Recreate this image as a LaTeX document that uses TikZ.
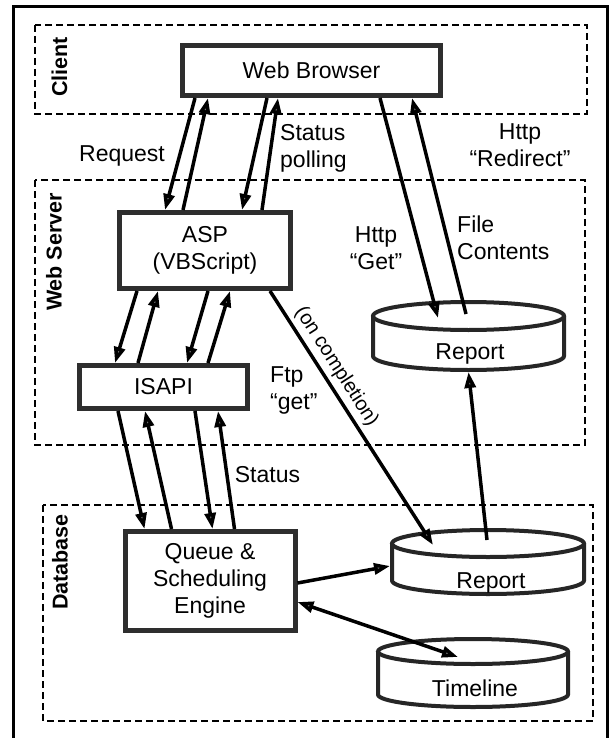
\documentclass[tikz,border=0pt]{standalone}
\usepackage{fontspec}
\setmainfont{Liberation Sans}
\usetikzlibrary{arrows.meta,calc}
\newcommand\mainfs{\fontsize{23}{27}\selectfont}
\newcommand\smallfs{\fontsize{20}{24}\selectfont}
\newcommand\zonefs{\fontsize{21.5}{25}\selectfont\bfseries}
\tikzset{
  mytip/.tip={Triangle[length=16pt,width=11pt,fill=black!55]},
  box/.style={draw=black!82, line width=5pt, fill=white, inner sep=0pt, font=\mainfs, align=center},
  zone/.style={draw=black, line width=2pt, dash pattern=on 7pt off 4pt},
  zonelabel/.style={rotate=90, font=\zonefs, inner sep=0pt},
  lbl/.style={font=\mainfs, inner sep=0pt},
  arr/.style={draw=black, line width=3.5pt, -mytip},
  darr/.style={draw=black, line width=3.5pt, mytip-mytip},
  cyl/.style={draw=black!85, line width=4pt},
}
% #1 cx, #2 cy of top ellipse, #3 rx, #4 ry, #5 cy of bottom arc
\newcommand\drawcyl[5]{%
  \draw[cyl] (#1-#3,#2) -- (#1-#3,#5) arc[start angle=180,end angle=360,x radius=#3pt,y radius=#4pt] -- (#1+#3,#2);
  \draw[cyl] (#1,#2) ellipse[x radius=#3pt,y radius=#4pt];
}
\begin{document}
\begin{tikzpicture}[x=1pt,y=-1pt]
\useasboundingbox (0,0) rectangle (611,738);
\fill[white] (0,0) rectangle (611,738);
% outer frame
\draw[line width=3pt] (13,745) -- (13,7) -- (607,7) -- (607,745);
% zones
\draw[zone] (35,25) rectangle (587,114);
\draw[zone] (35,180) rectangle (585,445);
\draw[zone] (43,505) rectangle (593,721);
\node[zonelabel] (zclient) at (59.5,67) {Client};
\node[zonelabel] (zweb) at (54,252) {Web Server};
\node[zonelabel] (zdb) at (60,562) {Database};
% boxes
\node[box, minimum width=258pt, minimum height=50pt] (br) at (311.5,70.5) {Web Browser};
\node[box, minimum width=171pt, minimum height=76pt] (asp) at (205,250.5) {ASP\\(VBScript)};
\node[box, minimum width=168pt, minimum height=43pt] (isapi) at (163.5,387) {ISAPI};
\node[box, minimum width=170pt, minimum height=99pt] (q) at (210,581) {Queue \&\\Scheduling\\Engine};
% cylinders
\drawcyl{468.5}{316}{95.5}{14}{356}
\coordinate (wrtop) at (468.5,316);
\coordinate (wrbot) at (468.5,370);
\node[lbl, anchor=base] (wr) at (470,359.5) {Report};
\drawcyl{488}{543.5}{96}{13.5}{580.5}
\coordinate (drtop) at (488,543.5);
\coordinate (drleft) at (390,566);
\node[lbl, anchor=base] (dr) at (491,588) {Report};
\drawcyl{473}{651.5}{95}{12.5}{694.5}
\coordinate (tltop) at (473,651.5);
\node[lbl, anchor=base] (tl) at (475,696) {Timeline};
% labels
\node[lbl, anchor=base] (lreq) at (122,162) {Request};
\node[lbl, anchor=west, align=left] (lpoll) at (280,148) {Status\\polling};
\node[lbl, align=center] (lredir) at (520,145.5) {Http\\“Redirect”};
\node[lbl, align=center] (lget) at (376,248) {Http\\“Get”};
\node[lbl, anchor=west, align=left] (lfile) at (457,238) {File\\Contents};
\node[lbl, anchor=west, align=left] (lftp) at (270,390.5) {Ftp\\“get”};
\node[lbl, anchor=base] (lstat) at (267.5,482) {Status};
% browser <-> asp
\draw[arr] ([xshift=15pt]br.south west) -- ([xshift=48pt]asp.north west);
\draw[arr] ([xshift=66pt]asp.north west) -- ([xshift=28pt]br.south west);
\draw[arr] ([xshift=87pt]br.south west) -- ([xshift=125pt]asp.north west);
\draw[arr] ([xshift=145pt]asp.north west) -- ([xshift=98pt]br.south west);
% browser <-> web report
\draw[arr] ([xshift=200pt]br.south west) -- ([xshift=-30.5pt,yshift=-2pt]wrtop);
\draw[arr] ([xshift=-2.5pt,yshift=2pt]wrtop) -- ([xshift=232pt]br.south west);
% asp <-> isapi
\draw[arr] ([xshift=20pt]asp.south west) -- ([xshift=38pt]isapi.north west);
\draw[arr] ([xshift=61pt]isapi.north west) -- ([xshift=41pt]asp.south west);
\draw[arr] ([xshift=91pt]asp.south west) -- ([xshift=110pt]isapi.north west);
\draw[arr] ([xshift=131pt]isapi.north west) -- ([xshift=113pt]asp.south west);
% isapi <-> queue
\draw[arr] ([xshift=41pt]isapi.south west) -- ([xshift=22pt]q.north west);
\draw[arr] ([xshift=49pt]q.north west) -- ([xshift=68pt]isapi.south west);
\draw[arr] ([xshift=118pt]isapi.south west) -- ([xshift=90pt]q.north west);
\draw[arr] ([xshift=112pt]q.north west) -- ([xshift=141pt]isapi.south west);
% asp -> db report
\draw[arr] ([xshift=153pt]asp.south west) -- node[pos=0.33, sloped, above, font=\smallfs, inner sep=4pt] (lcomp) {(on completion)} ([xshift=-55pt,yshift=-1.5pt]drtop);
% db report -> web report
\draw[arr] ([xshift=-1pt,yshift=3.5pt]drtop) -- ([yshift=-2pt]wrbot);
% queue -> db report
\draw[arr] ([yshift=-2pt]q.east) -- (drleft);
% queue <-> timeline
\draw[darr] ([yshift=-21pt]q.east) -- ([xshift=-15pt,yshift=-5.5pt]tltop);
\end{tikzpicture}
\end{document}
